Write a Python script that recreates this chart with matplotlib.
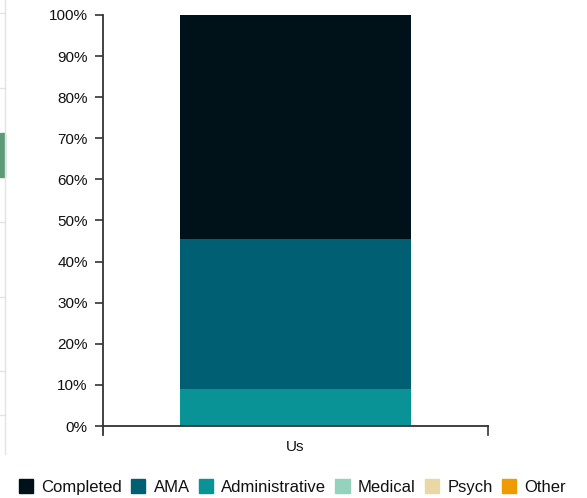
import matplotlib.pyplot as plt
from matplotlib.patches import Rectangle
from matplotlib.lines import Line2D
from matplotlib.ticker import FuncFormatter

plt.rcParams['font.family'] = ['Liberation Sans', 'DejaVu Sans']

# data
categories = ['Us']
series = ['Completed', 'AMA', 'Administrative', 'Medical', 'Psych', 'Other']
values = {
    'Completed': [54.5],
    'AMA': [36.4],
    'Administrative': [9.1],
    'Medical': [0.0],
    'Psych': [0.0],
    'Other': [0.0],
}
colors = ['#001219', '#005f73', '#0a9396', '#94d2bd', '#e9d8a6', '#ee9b00']
yticks = [0, 10, 20, 30, 40, 50, 60, 70, 80, 90, 100]

W, H = 587, 498
fig = plt.figure(figsize=(W / 100, H / 100), dpi=100)

# bits of the surrounding page on the left edge
fig.add_artist(Line2D([5 / W, 5 / W], [1, 44 / H], color='#e3e3e3', lw=1, transform=fig.transFigure))
for yy in [13, 88, 222, 297, 371, 415]:
    fig.add_artist(Line2D([0, 5 / W], [1 - yy / H, 1 - yy / H], color='#e3e3e3', lw=1, transform=fig.transFigure))
fig.add_artist(Rectangle((0, 1 - 177 / H), 5 / W, 44 / H, color='#5e9a78', transform=fig.transFigure))

ax = fig.add_axes([103 / W, 1 - 426 / H, (488 - 103) / W, (426 - 15) / H])

# stacked bars, bottom-up order
order = ['Administrative', 'AMA', 'Completed', 'Medical', 'Psych', 'Other']
x = range(len(categories))
bottom = [0.0] * len(categories)
for name in order:
    vals = values[name]
    ax.bar(x, vals, bottom=bottom, width=0.6, color=colors[series.index(name)], linewidth=0, zorder=2)
    bottom = [b + v for b, v in zip(bottom, vals)]

ax.set_xlim(-0.5, 0.5)
ax.set_ylim(0, 100)
ax.set_yticks(yticks)
ax.yaxis.set_major_formatter(FuncFormatter(lambda v, p: f'{int(v)}%'))
ax.set_xticks(list(x))
ax.set_xticklabels(categories)

for s in ['top', 'right']:
    ax.spines[s].set_visible(False)
for s in ['left', 'bottom']:
    ax.spines[s].set_color('#333333')
    ax.spines[s].set_linewidth(1.3)
    ax.spines[s].set_zorder(3)
ax.spines['left'].set_bounds(-2.1, 100)
ax.tick_params(axis='y', length=6, width=1.2, color='#333333', labelsize=11, labelcolor='#111111', pad=5)
ax.tick_params(axis='x', length=0, labelsize=11, labelcolor='#111111', pad=10)
# outer tick at the right end of the x axis
ax.plot([0.5, 0.5], [0, -2.1], color='#333333', lw=1.2, clip_on=False, zorder=3)

handles = [Rectangle((0, 0), 1, 1, color=c) for c in colors]
fig.legend(handles, series, loc='center', bbox_to_anchor=(0.498, 11 / H), ncol=6,
           frameon=False, fontsize=12, handlelength=0.85, handleheight=0.85,
           handletextpad=0.5, columnspacing=0.55, borderpad=0, borderaxespad=0,
           labelcolor='#111111')

fig.savefig('out.png', dpi=100)
